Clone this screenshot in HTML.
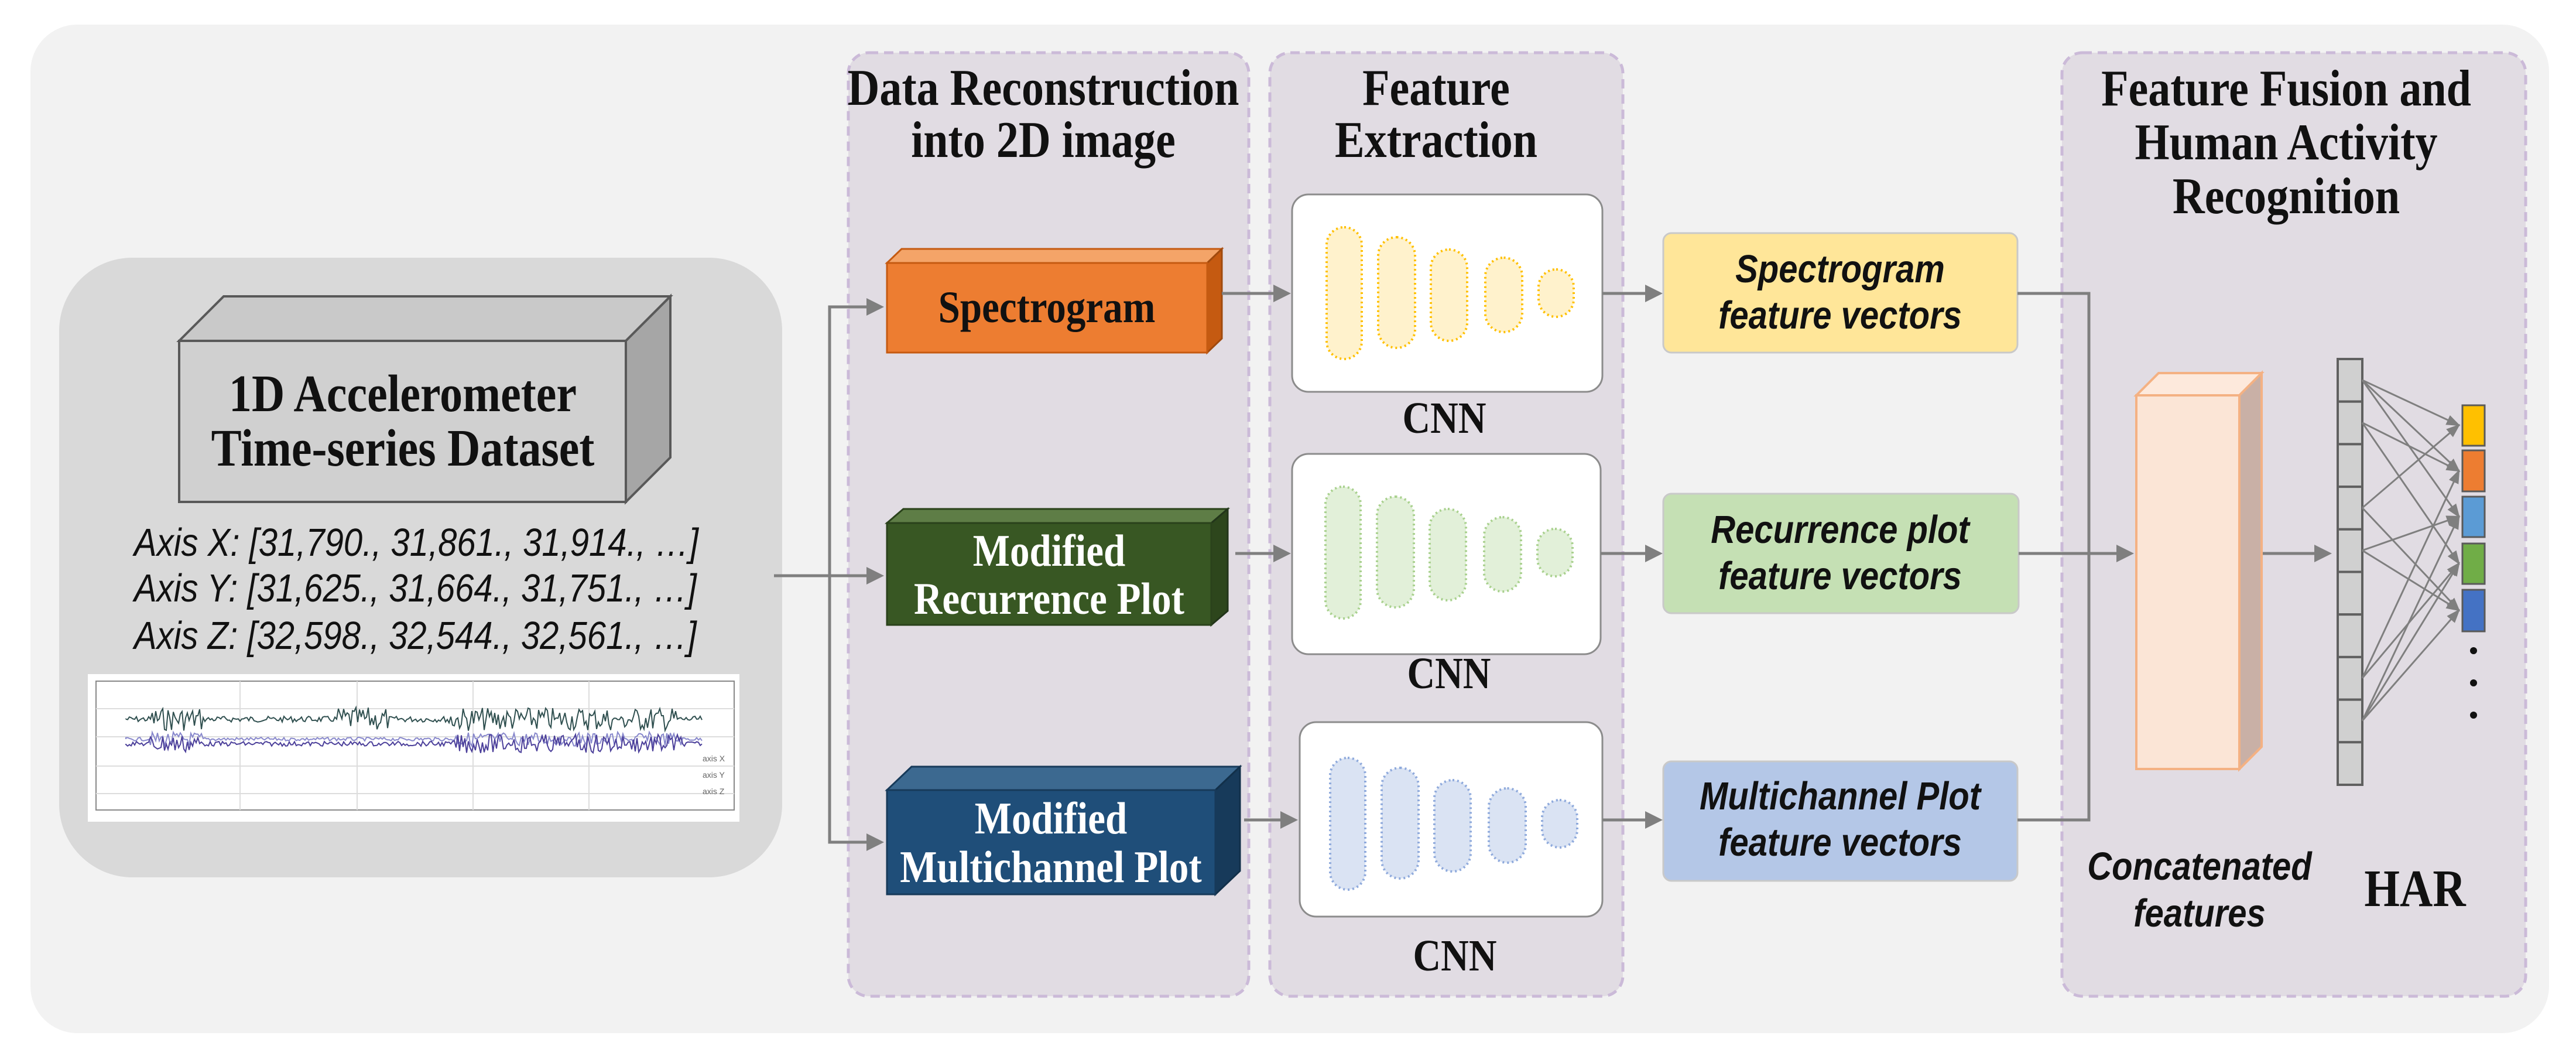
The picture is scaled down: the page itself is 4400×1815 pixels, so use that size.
<!DOCTYPE html>
<html><head><meta charset="utf-8"><style>
html,body{margin:0;padding:0;background:#fff;}
svg{display:block}
.ser{font-family:"Liberation Serif",serif;font-weight:bold;}
.sans{font-family:"Liberation Sans",sans-serif;font-style:italic;}
</style></head><body>
<svg id="s" width="4400" height="1815" viewBox="0 0 4400 1815" xmlns="http://www.w3.org/2000/svg">
<defs>
<marker id="ar" markerWidth="6" markerHeight="6" refX="5" refY="3" orient="auto" markerUnits="strokeWidth"><path d="M0,0 L6,3 L0,6 z" fill="#7f7f7f"/></marker>
<marker id="ar2" markerWidth="8" markerHeight="8" refX="7" refY="4" orient="auto" markerUnits="strokeWidth"><path d="M0,1 L8,4 L0,7 z" fill="#7f7f7f"/></marker>
</defs>
<rect x="0" y="0" width="4400" height="1815" fill="#fff"/>
<rect x="52" y="42" width="4302" height="1722" rx="80" fill="#f2f2f2"/>
<rect x="101" y="440" width="1235" height="1058" rx="125" fill="#d9d9d9"/>
<polygon points="306,582 382,506 1145,506 1069,582" fill="#c9c9c9" stroke="#595959" stroke-width="4"/>
<polygon points="1069,582 1145,506 1145,781 1069,857" fill="#a6a6a6" stroke="#595959" stroke-width="4"/>
<rect x="306" y="582" width="763" height="275" fill="#d0d0d0" stroke="#595959" stroke-width="4"/>
<text class="ser st" x="688" y="702" font-size="78" text-anchor="middle" fill="#111">1D Accelerometer</text>
<text class="ser st" x="688" y="795" font-size="78" text-anchor="middle" fill="#111">Time-series Dataset</text>
<text class="sans st" x="229" y="949" font-size="58" fill="#111">Axis X: [31,790., 31,861., 31,914., …]</text>
<text class="sans st" x="229" y="1027" font-size="58" fill="#111">Axis Y: [31,625., 31,664., 31,751., …]</text>
<text class="sans st" x="229" y="1108" font-size="58" fill="#111">Axis Z: [32,598., 32,544., 32,561., …]</text>
<rect x="150" y="1151" width="1113" height="252" fill="#fff"/>
<rect x="164" y="1163" width="1090" height="220" fill="#fff" stroke="#888" stroke-width="2"/>
<g stroke="#ddd" stroke-width="2"><line x1="164" y1="1210" x2="1254" y2="1210"/><line x1="164" y1="1258" x2="1254" y2="1258"/><line x1="164" y1="1308" x2="1254" y2="1308"/><line x1="164" y1="1355" x2="1254" y2="1355"/>
<line x1="410" y1="1163" x2="410" y2="1383"/><line x1="610" y1="1163" x2="610" y2="1383"/><line x1="808" y1="1163" x2="808" y2="1383"/><line x1="1006" y1="1163" x2="1006" y2="1383"/></g>
<g id="chart"></g>
<text x="1200" y="1300" font-size="14" fill="#666" font-family="Liberation Sans">axis X</text>
<text x="1200" y="1328" font-size="14" fill="#666" font-family="Liberation Sans">axis Y</text>
<text x="1200" y="1356" font-size="14" fill="#666" font-family="Liberation Sans">axis Z</text>
<rect x="1449" y="90" width="684" height="1611" rx="35" fill="#e1dce3" stroke="#cbbad8" stroke-width="5" stroke-dasharray="16,10"/>
<rect x="2169" y="90" width="603" height="1611" rx="35" fill="#e1dce3" stroke="#cbbad8" stroke-width="5" stroke-dasharray="16,10"/>
<rect x="3522" y="90" width="792" height="1611" rx="35" fill="#e1dce3" stroke="#cbbad8" stroke-width="5" stroke-dasharray="16,10"/>
<text class="ser st" x="1782" y="179" font-size="76" text-anchor="middle" fill="#111">Data Reconstruction</text>
<text class="ser st" x="1782" y="268" font-size="76" text-anchor="middle" fill="#111">into 2D image</text>
<text class="ser st" x="2453" y="179" font-size="76" text-anchor="middle" fill="#111">Feature</text>
<text class="ser st" x="2453" y="268" font-size="76" text-anchor="middle" fill="#111">Extraction</text>
<text class="ser st" x="3905" y="180" font-size="76" text-anchor="middle" fill="#111">Feature Fusion and</text>
<text class="ser st" x="3905" y="272" font-size="76" text-anchor="middle" fill="#111">Human Activity</text>
<text class="ser st" x="3905" y="364" font-size="76" text-anchor="middle" fill="#111">Recognition</text>
<g stroke="#7f7f7f" stroke-width="5" fill="none">
<line x1="1322" y1="983" x2="1505" y2="983" marker-end="url(#ar)"/>
<polyline points="1505,524 1417,524 1417,1438 1505,1438" />
</g>
<g stroke="#7f7f7f" stroke-width="5"><line x1="1480" y1="524" x2="1505" y2="524" marker-end="url(#ar)"/><line x1="1480" y1="1438" x2="1505" y2="1438" marker-end="url(#ar)"/></g>
<polygon points="1515,449 1540,425 2087,425 2062,449" fill="#f4a468" stroke="#c55a11" stroke-width="3"/>
<polygon points="2062,449 2087,425 2087,578 2062,602" fill="#c55a11" stroke="#a04a0e" stroke-width="3"/>
<rect x="1515" y="449" width="547" height="153" fill="#ed7d31" stroke="#c55a11" stroke-width="3"/>
<text class="ser st" x="1788" y="550" font-size="67" text-anchor="middle" fill="#111">Spectrogram</text>
<polygon points="1515,893 1543,869 2097,869 2069,893" fill="#5e7d46" stroke="#2a421b" stroke-width="3"/>
<polygon points="2069,893 2097,869 2097,1043 2069,1067" fill="#2d461c" stroke="#22351a" stroke-width="3"/>
<rect x="1515" y="893" width="554" height="174" fill="#385723" stroke="#2a421b" stroke-width="3"/>
<text class="ser st" x="1792" y="966" font-size="67" text-anchor="middle" fill="#fff">Modified</text>
<text class="ser st" x="1792" y="1048" font-size="67" text-anchor="middle" fill="#fff">Recurrence Plot</text>
<polygon points="1515,1349 1557,1309 2118,1309 2076,1349" fill="#3c6990" stroke="#173a5a" stroke-width="3"/>
<polygon points="2076,1349 2118,1309 2118,1487 2076,1527" fill="#173a5a" stroke="#12304a" stroke-width="3"/>
<rect x="1515" y="1349" width="561" height="178" fill="#1f4e79" stroke="#173a5a" stroke-width="3"/>
<text class="ser st" x="1795" y="1423" font-size="67" text-anchor="middle" fill="#fff">Modified</text>
<text class="ser st" x="1795" y="1506" font-size="67" text-anchor="middle" fill="#fff">Multichannel Plot</text>
<g stroke="#7f7f7f" stroke-width="5">
<line x1="2087" y1="501" x2="2200" y2="501" marker-end="url(#ar)"/>
<line x1="2110" y1="945" x2="2200" y2="945" marker-end="url(#ar)"/>
<line x1="2125" y1="1400" x2="2212" y2="1400" marker-end="url(#ar)"/>
</g>
<rect x="2207" y="332" width="530" height="337" rx="28" fill="#fff" stroke="#8c8c8c" stroke-width="3"/>
<rect x="2207" y="775" width="527" height="342" rx="28" fill="#fff" stroke="#8c8c8c" stroke-width="3"/>
<rect x="2220" y="1233" width="517" height="332" rx="28" fill="#fff" stroke="#8c8c8c" stroke-width="3"/>
<g id="pills"></g>
<text class="ser st" x="2467" y="739" font-size="66" text-anchor="middle" fill="#111">CNN</text>
<text class="ser st" x="2475" y="1175" font-size="66" text-anchor="middle" fill="#111">CNN</text>
<text class="ser st" x="2485" y="1657" font-size="66" text-anchor="middle" fill="#111">CNN</text>
<g stroke="#7f7f7f" stroke-width="5">
<line x1="2737" y1="501" x2="2835" y2="501" marker-end="url(#ar)"/>
<line x1="2734" y1="945" x2="2835" y2="945" marker-end="url(#ar)"/>
<line x1="2737" y1="1400" x2="2835" y2="1400" marker-end="url(#ar)"/>
</g>
<rect x="2841" y="398" width="605" height="204" rx="14" fill="#ffe699" stroke="#c9c9c9" stroke-width="3"/>
<rect x="2841" y="843" width="607" height="204" rx="14" fill="#c5e0b4" stroke="#c9c9c9" stroke-width="3"/>
<rect x="2841" y="1300" width="605" height="204" rx="14" fill="#b4c7e7" stroke="#c9c9c9" stroke-width="3"/>
<g class="sans" font-size="58" font-weight="bold" text-anchor="middle" fill="#111">
<text class="st" x="3143" y="482">Spectrogram</text><text class="st" x="3143" y="561">feature vectors</text>
<text class="st" x="3143" y="927">Recurrence plot</text><text class="st" x="3143" y="1006">feature vectors</text>
<text class="st" x="3143" y="1382">Multichannel Plot</text><text class="st" x="3143" y="1461">feature vectors</text>
</g>
<g stroke="#7f7f7f" stroke-width="5" fill="none">
<polyline points="3446,501 3568,501 3568,1400 3446,1400"/>
<line x1="3448" y1="945" x2="3640" y2="945" marker-end="url(#ar)"/>
<line x1="3863" y1="945" x2="3978" y2="945" marker-end="url(#ar)"/>
</g>
<polygon points="3649,675 3687,637 3863,637 3825,675" fill="#fde9dc" stroke="#f4b183" stroke-width="4"/>
<polygon points="3825,675 3863,637 3863,1275 3825,1313" fill="#c9b0a6" stroke="#f4b183" stroke-width="4"/>
<rect x="3649" y="675" width="176" height="638" fill="#fbe5d6" stroke="#f4b183" stroke-width="4"/>
<g id="vec"></g>
<g id="lines" stroke="#7f7f7f" stroke-width="3"></g>
<rect x="4206" y="692" width="38" height="69" fill="#ffc000" stroke="#5a5a5a" stroke-width="3"/>
<rect x="4206" y="769" width="38" height="70" fill="#ed7d31" stroke="#5a5a5a" stroke-width="3"/>
<rect x="4206" y="848" width="38" height="69" fill="#5b9bd5" stroke="#5a5a5a" stroke-width="3"/>
<rect x="4206" y="928" width="38" height="69" fill="#70ad47" stroke="#5a5a5a" stroke-width="3"/>
<rect x="4206" y="1007" width="38" height="71" fill="#4472c4" stroke="#5a5a5a" stroke-width="3"/>
<circle cx="4225" cy="1111" r="6" fill="#111"/><circle cx="4225" cy="1166" r="6" fill="#111"/><circle cx="4225" cy="1221" r="6" fill="#111"/>
<g class="sans" font-size="58" font-weight="bold" text-anchor="middle" fill="#111">
<text class="st" x="3757" y="1502">Concatenated</text><text class="st" x="3757" y="1582">features</text></g>
<text class="ser st" x="4125" y="1547" font-size="78" text-anchor="middle" fill="#111">HAR</text>
</svg>
<script>
var NS="http://www.w3.org/2000/svg";
function el(t,a,p){var e=document.createElementNS(NS,t);for(var k in a)e.setAttribute(k,a[k]);p.appendChild(e);return e;}
var pills=[[2266,60,388,613],[2354,63,405,594],[2444,62,426,582],[2537,63,440,567],[2628,60,460,541]];
var sets=[[0,0,"#fff2cc","#ffc000"],[443,-2,"#e2f0d9","#a9d18e"],[906,6,"#dae3f3","#8faadc"]];
var pg=document.getElementById("pills");
sets.forEach(function(s){pills.forEach(function(p){el("rect",{x:p[0]+s[1],y:p[2]+s[0],width:p[1],height:p[3]-p[2],rx:p[1]/2,fill:s[2],stroke:s[3],"stroke-width":4,"stroke-dasharray":"3,5"},pg);});});
var vg=document.getElementById("vec");
for(var i=0;i<10;i++){el("rect",{x:3993,y:613+i*72.7,width:42,height:72.7,fill:"#d0d0d0",stroke:"#606060","stroke-width":4},vg);}
var lg=document.getElementById("lines");
var dst=[726,804,882,962,1042];
var pairs=[[0,0],[0,1],[0,2],[1,1],[1,3],[3,0],[3,4],[4,2],[4,4],[7,1],[7,3],[8,2],[8,3],[8,4]];
pairs.forEach(function(p){var y=613+p[0]*72.7+36;el("line",{x1:4035,y1:y,x2:4200,y2:dst[p[1]],"marker-end":"url(#ar2)"},lg);});
var cg=document.getElementById("chart");
var seed=7;function r(){seed=(seed*9301+49297)%233280;return seed/233280;}
function line(base,amp,col,spikes){var d="M215,"+base;for(var x=215;x<1200;x+=3){var a=amp;spikes.forEach(function(s){if(Math.abs(x-s)<45)a*=4;});d+=" L"+x+","+(base+(r()-0.5)*a).toFixed(1);}el("path",{d:d,fill:"none",stroke:col,"stroke-width":2},cg);}
line(1228,10,"#2f4f4f",[300,620,810,900,1000,1110]);
line(1262,6,"#8888cc",[300,820,920,1020,1120]);
line(1270,8,"#4b3f9a",[300,820,920,1020,1120]);
document.querySelectorAll("text.st").forEach(function(t){var y=parseFloat(t.getAttribute("y"));t.setAttribute("transform","matrix(1 0 0 1.15 0 "+(-0.15*y)+")");});
</script>
</body></html>
